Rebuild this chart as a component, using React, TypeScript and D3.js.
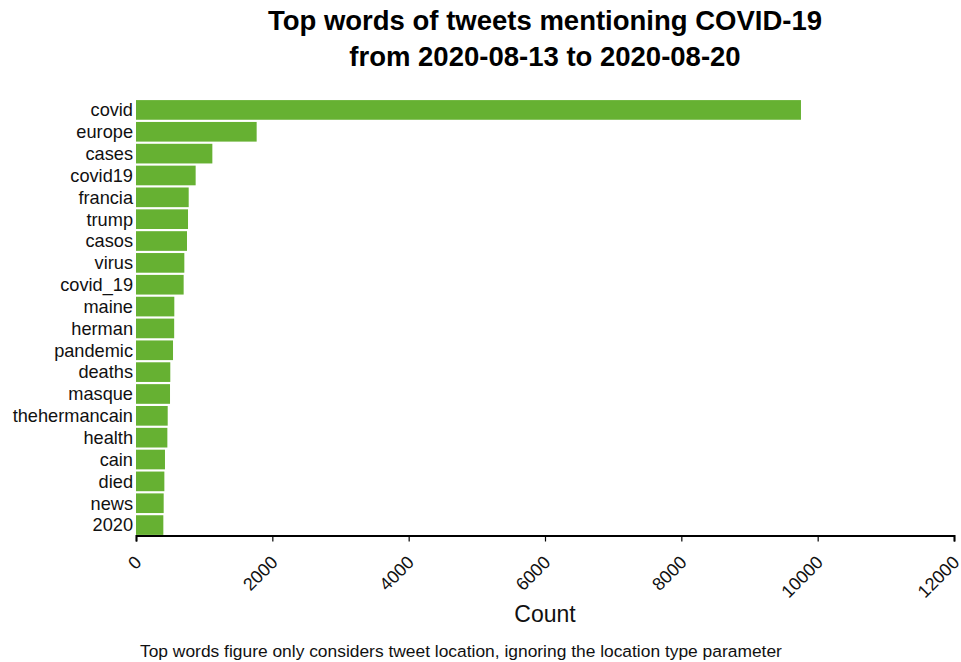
import React, { useEffect, useRef } from "react";
import * as d3 from "d3";

const words = [
  "covid", "europe", "cases", "covid19", "francia", "trump", "casos", "virus",
  "covid_19", "maine", "herman", "pandemic", "deaths", "masque", "thehermancain",
  "health", "cain", "died", "news", "2020",
];
const counts = [
  9755, 1770, 1120, 875, 773, 763, 748, 709,
  699, 562, 560, 543, 503, 499, 465,
  460, 425, 416, 406, 401,
];
const xTicks = [0, 2000, 4000, 6000, 8000, 10000, 12000];
const titleLines = ["Top words of tweets mentioning COVID-19", "from 2020-08-13 to 2020-08-20"];
const xLabel = "Count";
const footnote = "Top words figure only considers tweet location, ignoring the location type parameter";

const W = 961;
const H = 662;
const FONT = "'Liberation Sans', Arial, Helvetica, sans-serif";
const BAR = "#66b132";

export default function App() {
  const axisRef = useRef<SVGGElement>(null);
  const left = 136;
  const right = 954;
  const top = 99;
  const bottom = 536;

  const x = d3.scaleLinear().domain([0, 12000]).range([left, right]);
  const y = d3.scaleBand<string>().domain(words).range([top, bottom]).paddingInner(0.1).paddingOuter(0.05);

  useEffect(() => {
    if (!axisRef.current) return;
    const g = d3.select(axisRef.current);
    g.selectAll("*").remove();
    g.call(d3.axisBottom(x).tickValues(xTicks).tickSize(6).tickFormat(d3.format("d")) as any);
    g.select(".domain").attr("stroke", "#000").attr("stroke-width", 2);
    g.selectAll(".tick line").attr("stroke", "#000").attr("stroke-width", 1.2);
    g.selectAll(".tick text")
      .attr("x", null)
      .attr("y", null)
      .attr("dy", null)
      .attr("transform", "translate(6,28) rotate(-45)")
      .style("text-anchor", "end")
      .style("font-size", "18px")
      .style("font-family", FONT)
      .attr("fill", "#111");
  }, []);

  return (
    <svg width={W} height={H} style={{ position: "absolute", left: 0, top: 0, background: "#fff" }} fontFamily={FONT}>
      {titleLines.map((t, i) => (
        <text key={t} x={(left + right) / 2} y={30 + i * 36} textAnchor="middle" fontSize={27.5} fontWeight="bold" fill="#000">
          {t}
        </text>
      ))}
      {words.map((w, i) => (
        <g key={w}>
          <rect x={x(0)} y={y(w)} width={x(counts[i]) - x(0)} height={y.bandwidth()} fill={BAR} />
          <text x={left - 3} y={(y(w) as number) + y.bandwidth() / 2} dy="0.35em" textAnchor="end" fontSize={18.2} fill="#111">
            {w}
          </text>
        </g>
      ))}
      <g ref={axisRef} transform={`translate(0,${bottom - 0.5})`} />
      <text x={(left + right) / 2} y={622} textAnchor="middle" fontSize={23} fill="#111">
        {xLabel}
      </text>
      <text x={140} y={657} fontSize={17.4} fill="#111">
        {footnote}
      </text>
    </svg>
  );
}
